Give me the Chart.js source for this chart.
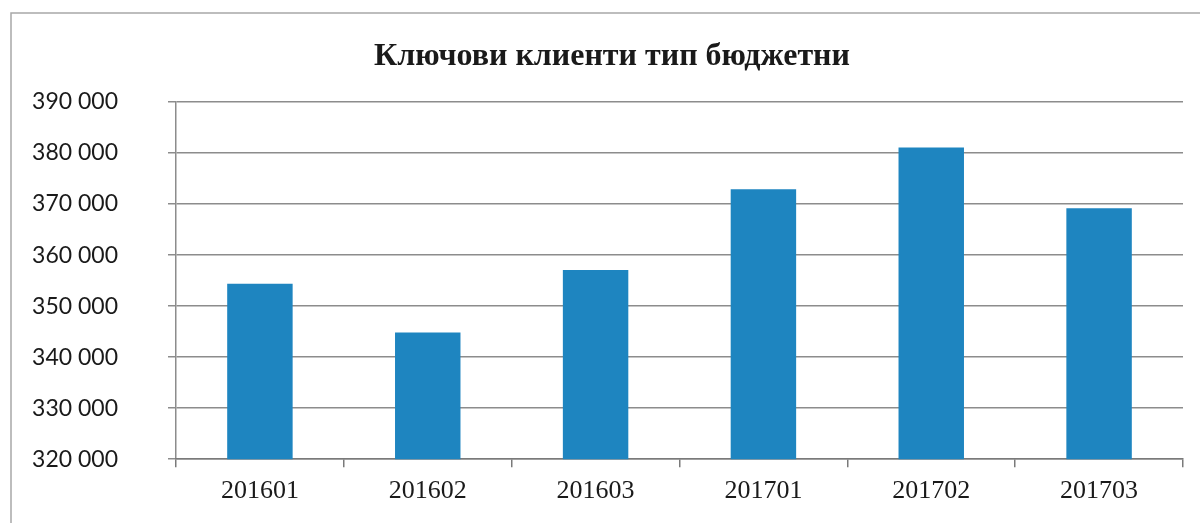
<!DOCTYPE html>
<html>
<head>
<meta charset="utf-8">
<script src="https://cdn.jsdelivr.net/npm/chart.js@4"></script>
<style>
  body { margin: 0; background: #fff; }
  canvas { display: block; }
</style>
</head>
<body>
<canvas id="myChart" width="1200" height="523"></canvas>
<script>
var chartTitle = "Ключови клиенти тип бюджетни";
var periods = ["201601", "201602", "201603", "201701", "201702", "201703"];
var clients = [354400, 344850, 357100, 372900, 381100, 369200];
var yMin = 320000;
var yMax = 390000;
var yStep = 10000;

// frame round the whole chart + the title, placed like in the Excel original
var framePlugin = {
  id: 'frame',
  beforeDraw: function(chart){
    var ctx = chart.ctx;
    ctx.save();
    ctx.strokeStyle = '#a8a8a8';
    ctx.lineWidth = 1.5;
    ctx.strokeRect(11, 13, 1200, 520);
    ctx.fillStyle = '#1a1a1a';
    ctx.font = 'bold 32px "Liberation Serif", "DejaVu Serif", serif';
    ctx.textAlign = 'center';
    ctx.textBaseline = 'alphabetic';
    ctx.fillText(chartTitle, 612, 65);
    ctx.restore();
  }
};

var ctx = document.getElementById('myChart').getContext('2d');
var myChart = new Chart(ctx, {
    type: 'bar',
    data: {
        labels: periods,
        datasets: [{
            label: chartTitle,
            data: clients,
            backgroundColor: '#1e85c0',
            borderWidth: 0,
            barPercentage: 0.39,
            categoryPercentage: 1
        }]
    },
    options: {
        responsive: false,
        animation: false,
        devicePixelRatio: 1,
        layout: {
            padding: { left: 0, right: 17, top: 102, bottom: 0 }
        },
        plugins: {
            legend: { display: false },
            tooltip: { enabled: false },
            title: { display: false }
        },
        scales: {
            y: {
                min: yMin,
                max: yMax,
                afterFit: function(scale){ scale.width = 176; },
                ticks: {
                    stepSize: yStep,
                    color: '#1a1a1a',
                    padding: 50,
                    font: { family: 'Lato, "Open Sans", sans-serif', size: 23 },
                    callback: function(v){ return String(v).replace(/\B(?=(\d{3})+(?!\d))/g, ' '); }
                },
                grid: {
                    color: '#8c8c8c',
                    lineWidth: 1.5,
                    tickLength: 8
                },
                border: { display: true, color: '#8c8c8c', width: 1.5 }
            },
            x: {
                afterFit: function(scale){ scale.height = 57; },
                ticks: {
                    color: '#1a1a1a',
                    padding: 8,
                    font: { family: '"Liberation Serif", "DejaVu Serif", serif', size: 26 }
                },
                grid: {
                    offset: true,
                    drawOnChartArea: false,
                    drawTicks: true,
                    tickLength: 8,
                    color: '#7a7a7a',
                    lineWidth: 1.5
                },
                border: { display: true, color: '#7a7a7a', width: 1.5 }
            }
        }
    },
    plugins: [framePlugin]
});
</script>
</body>
</html>
